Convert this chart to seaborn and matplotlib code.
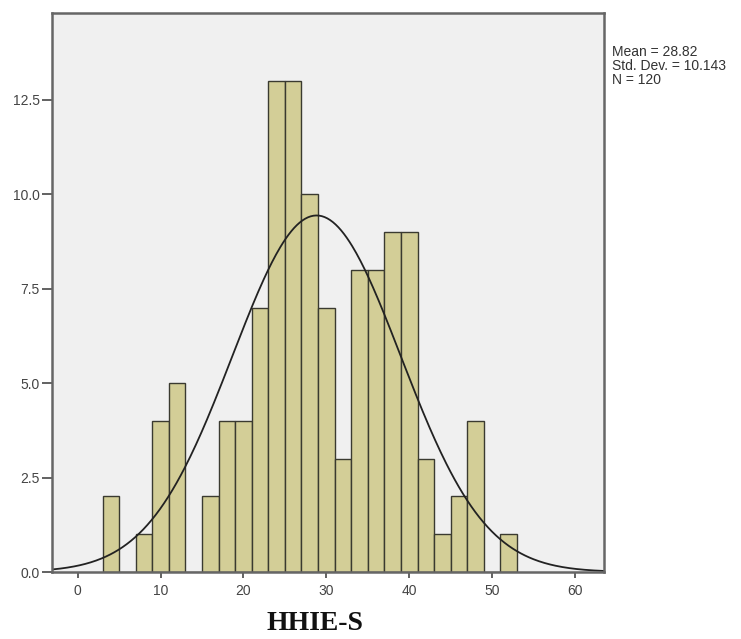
import numpy as np
import pandas as pd
import matplotlib
matplotlib.use("Agg")
import matplotlib.pyplot as plt
import seaborn as sns

# Data (bin width = 2)
bin_edges = [3, 5, 7, 9, 11, 13, 15, 17, 19, 21, 23, 25, 27, 29, 31, 33, 35,
             37, 39, 41, 43, 45, 47, 49, 51, 53]
counts = [2, 0, 1, 4, 5, 0, 2, 4, 4, 7, 13, 13, 10, 7, 3, 8, 8, 9, 9, 3, 1, 2,
          4, 0, 1]
mean_val = 28.82
std_val = 10.143
n_val = 120
x_label = "HHIE-S"
x_ticks = [0, 10, 20, 30, 40, 50, 60]
y_ticks = [0.0, 2.5, 5.0, 7.5, 10.0, 12.5]

centers = [(a + b) / 2 for a, b in zip(bin_edges[:-1], bin_edges[1:])]
df = pd.DataFrame({"value": centers, "count": counts})

sns.set_style("white")
fig = plt.figure(figsize=(7.41, 6.39), dpi=100)
ax = fig.add_axes([52 / 741, 1 - 572 / 639, (604 - 52) / 741, (572 - 13) / 639])
ax.set_facecolor("#F0F0F0")

sns.histplot(data=df, x="value", weights="count", bins=bin_edges, ax=ax,
             color="#D3CE97", edgecolor="#3a3a30", linewidth=1.0, alpha=1.0)

xs = np.linspace(-3.1, 63.5, 400)
binw = bin_edges[1] - bin_edges[0]
pdf = n_val * binw / (std_val * np.sqrt(2 * np.pi)) * np.exp(-0.5 * ((xs - mean_val) / std_val) ** 2)
sns.lineplot(x=xs, y=pdf, ax=ax, color="#222222", linewidth=1.3)

ax.set_xlim(-3.1, 63.5)
ax.set_ylim(0, 14.8)
ax.set_xticks(x_ticks)
ax.set_yticks(y_ticks)
ax.set_yticklabels([f"{v:.1f}" for v in y_ticks])
ax.set_ylabel("")
ax.set_xlabel(x_label, fontsize=20, fontweight="bold", family="Liberation Serif",
              color="#111111")
ax.xaxis.label.set_va("center")
ax.xaxis.set_label_coords((315 - 52) / 552, -(624 - 572) / 559)
ax.tick_params(axis="both", direction="out", width=1.3, color="#555555",
               labelsize=10, labelcolor="#444444", bottom=True, left=True)
ax.tick_params(axis="y", length=7, pad=2)
ax.tick_params(axis="x", length=4.5, pad=4)
for lab in ax.get_xticklabels() + ax.get_yticklabels():
    lab.set_family("Liberation Sans")
for s in ax.spines.values():
    s.set_visible(True)
    s.set_color("#666666")
    s.set_linewidth(1.8)

fig.text(612 / 741, 1 - 45 / 639,
         f"Mean = {mean_val}\nStd. Dev. = {std_val}\nN = {n_val}",
         fontsize=10, family="Liberation Sans", color="#333333",
         va="top", ha="left", linespacing=1.0)

fig.savefig("out.png", dpi=100, facecolor="white")
